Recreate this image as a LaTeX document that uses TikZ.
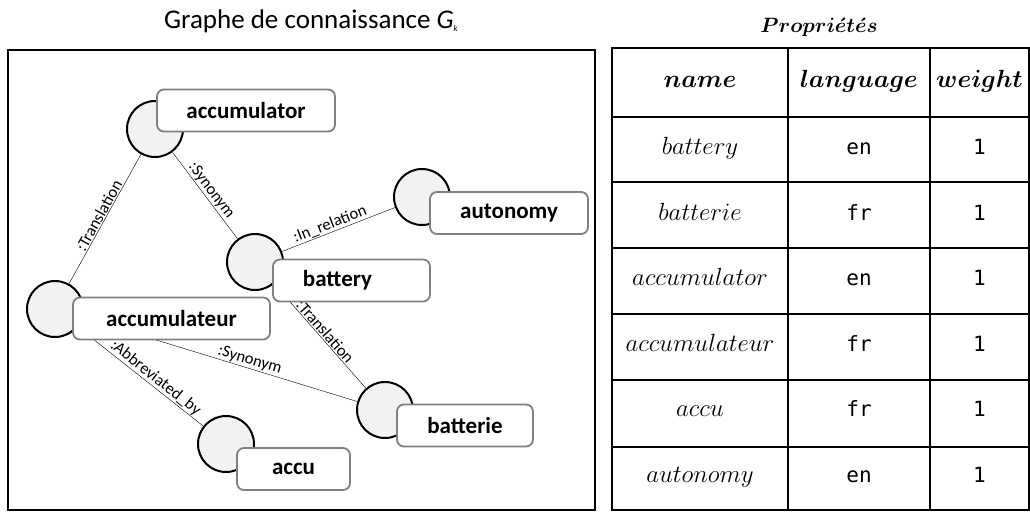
\documentclass[tikz,border=0pt]{standalone}
\usepackage{amsmath}
\usepackage{fontspec}
\setmainfont{Carlito}
\newfontfamily\monofnt{DejaVu Sans Mono}
\usetikzlibrary{positioning}

\tikzset{
  concept/.style={circle, draw, line width=2pt, fill=black!5, minimum size=56pt, inner sep=0pt},
  tag/.style={draw=black!50, line width=1.8pt, rounded corners=7pt, fill=white,
              minimum height=42pt, inner sep=0pt, font=\fontsize{23}{26}\selectfont\bfseries},
  rel/.style={font=\fontsize{16.5}{18}\selectfont, sloped, above, inner sep=1pt},
  tabline/.style={line width=2.2pt},
  cell/.style={font=\fontsize{23}{26}\selectfont, text height=14pt, text depth=4pt},
  val/.style={font=\fontsize{21}{24}\monofnt, text height=14pt, text depth=4pt}
}

\begin{document}
\begin{tikzpicture}[x=1pt, y=-1pt]

\useasboundingbox (0,0) rectangle (1030,511);

% --- Titles ---
\node[font=\fontsize{27}{30}\selectfont] (titlegraph) at (311,21)
  {Graphe de connaissance \textit{G}\raisebox{-3pt}{\fontsize{9}{9}\selectfont\textit{k}}};
\node[font=\fontsize{21}{24}\selectfont] (titleprops) at (819,27)
  {$\boldsymbol{Propri\acute{e}t\acute{e}s}$};

% --- Graph frame ---
\draw[line width=2.5pt] (8,50) rectangle (595,510);

% --- Concept circles ---
\node[concept] (accumulator)  at (155,129) {};
\node[concept] (battery)      at (255,262) {};
\node[concept] (autonomy)     at (422,197) {};
\node[concept] (accumulateur) at (55,309) {};
\node[concept] (batterie)     at (385,410) {};
\node[concept] (accu)         at (226,444) {};

% --- Relations ---
\draw[thin] (accumulateur) -- node[rel, pos=.5] {:Translation} (accumulator);
\draw[thin] (accumulator) -- node[rel, pos=.5] {:Synonym} (battery);
\draw[thin] (battery) -- node[rel, pos=.45] {:In\_relation} (autonomy);
\draw[thin] (battery) -- node[rel, pos=.5] {:Translation} (batterie);
\draw[thin] (accumulateur) -- node[rel, pos=.6] {:Synonym} (batterie);
\draw[thin] (accumulateur) -- node[rel, pos=.58] {:Abbreviated\_by} (accu);

% --- Labels (on top of circles) ---
\node[tag, minimum width=178pt] (accumulatortag)  at (246,110.5) {accumulator};
\node[tag, minimum width=157pt] (batterytag)      at (351.5,280.5) {battery\hspace*{28pt}};
\node[tag, minimum width=158pt] (autonomytag)     at (509,213) {autonomy};
\node[tag, minimum width=197pt] (accumulateurtag) at (171.5,318.5) {accumulateur};
\node[tag, minimum width=136pt] (batterietag)     at (465,425.5) {batterie};
\node[tag, minimum width=113pt] (accutag)         at (293.5,469) {accu};

% --- Properties table ---
\draw[tabline] (612,48) rectangle (1029,510);
\foreach \xx in {788,930}
  \draw[tabline] (\xx,48) -- (\xx,510);
\foreach \yy in {117,182,248,314,380,447}
  \draw[tabline] (612,\yy) -- (1029,\yy);

% header
\node[cell] (hname)   at (700,82.5)   {$\boldsymbol{name}$};
\node[cell] (hlang)   at (859,82.5)   {$\boldsymbol{language}$};
\node[cell] (hweight) at (979.5,82.5) {$\boldsymbol{weight}$};

% rows
\foreach \nm/\lg [count=\i] in {battery/en, batterie/fr, accumulator/en,
                                accumulateur/fr, accu/fr, autonomy/en} {
  \node[cell] (rname\i) at (700,117+\i*65.5-32.75) {$\nm$};
  \node[val] (rlang\i) at (859,117+\i*65.5-32.75) {\lg};
  \node[val] (rweight\i) at (979.5,117+\i*65.5-32.75) {1};
}

\end{tikzpicture}
\end{document}
